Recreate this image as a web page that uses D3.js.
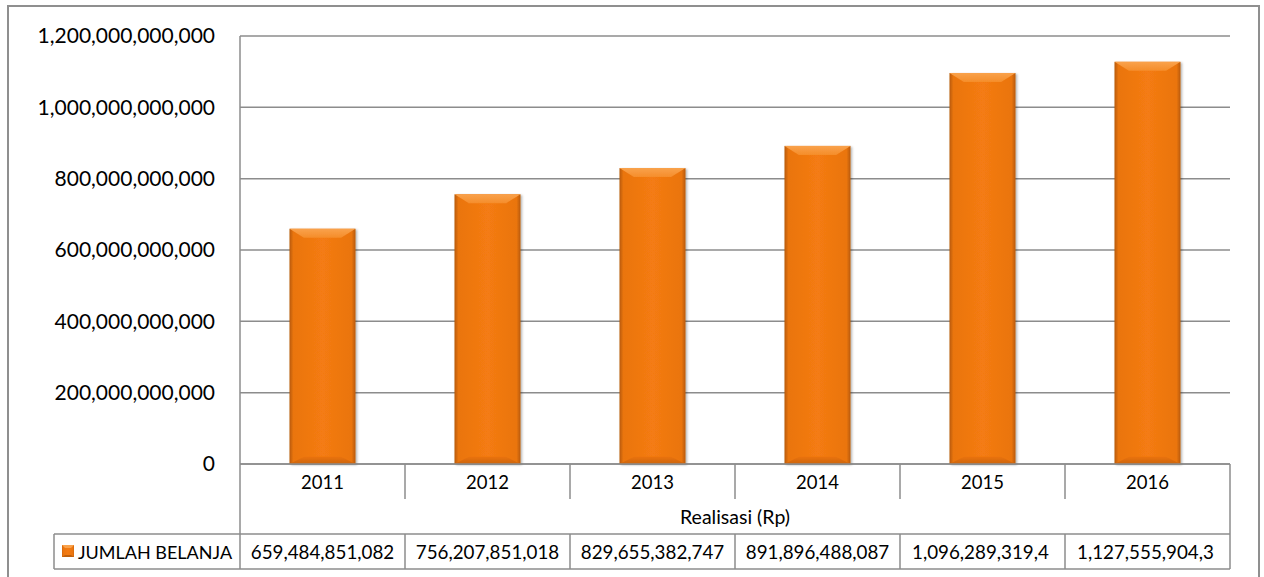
<!DOCTYPE html>
<html>
<head>
<meta charset="utf-8">
<script src="https://cdn.jsdelivr.net/npm/d3@7"></script>
<style>
  html, body { margin: 0; padding: 0; background: #fff; }
  svg { display: block; font-family: Lato, "Open Sans", sans-serif; }
</style>
</head>
<body>
<svg id="chart" width="1264" height="577"></svg>
<script>
// Realisasi belanja per tahun (Rp)
const years = ["2011", "2012", "2013", "2014", "2015", "2016"];
const jumlahBelanja = [659484851082, 756207851018, 829655382747, 891896488087, 1096289319400, 1127555904300];
const yTicks = [0, 200000000000, 400000000000, 600000000000, 800000000000, 1000000000000, 1200000000000];
const seriesName = "JUMLAH BELANJA";
const axisTitle = "Realisasi (Rp)";

const svg = d3.select("#chart");
const W = 1264, H = 577;
const plot = { left: 240, right: 1230, top: 36, bottom: 464 };
const table = { legendLeft: 54, catBottom: 499, rowTop: 534, rowBottom: 569 };
const gridColor = "#8c8c8c";
const fmt = d3.format(",.0f");

const x = d3.scaleBand().domain(years).range([plot.left, plot.right])
  .paddingInner(0.6).paddingOuter(0.3);
const col = d3.scaleBand().domain(years).range([plot.left, plot.right]);
const y = d3.scaleLinear().domain([0, 1200000000000]).range([plot.bottom, plot.top]);

const defs = svg.append("defs");
const side = defs.append("linearGradient").attr("id", "barSide").attr("x1", 0).attr("x2", 1).attr("y1", 0).attr("y2", 0);
[[0, "#b85a0c"], [0.06, "#ea750f"], [0.5, "#f47b12"], [0.94, "#ea750f"], [1, "#b85a0c"]]
  .forEach(([o, c]) => side.append("stop").attr("offset", o).attr("stop-color", c));
const topG = defs.append("linearGradient").attr("id", "barTop").attr("x1", 0).attr("x2", 0).attr("y1", 0).attr("y2", 1);
[[0, "#f9a24c"], [1, "#f58d2a"]].forEach(([o, c]) => topG.append("stop").attr("offset", o).attr("stop-color", c));
const botG = defs.append("linearGradient").attr("id", "barBot").attr("x1", 0).attr("x2", 0).attr("y1", 0).attr("y2", 1);
[[0, "#ea720e"], [1, "#cc650d"]].forEach(([o, c]) => botG.append("stop").attr("offset", o).attr("stop-color", c));
const shadow = defs.append("filter").attr("id", "shadow").attr("x", "-20%").attr("y", "-10%").attr("width", "150%").attr("height", "130%");
shadow.append("feDropShadow").attr("dx", 1.5).attr("dy", 1).attr("stdDeviation", 1.2).attr("flood-color", "#000").attr("flood-opacity", 0.3);

// outer frame
svg.append("rect").attr("x", 8).attr("y", 6).attr("width", 1251).attr("height", H + 10)
  .attr("fill", "none").attr("stroke", "#8f8f8f").attr("stroke-width", 2);

// gridlines
svg.append("g").selectAll("line").data(yTicks).join("line")
  .attr("x1", plot.left).attr("x2", plot.right)
  .attr("y1", d => y(d)).attr("y2", d => y(d))
  .attr("stroke", gridColor).attr("stroke-width", 1.5);

// value axis labels
svg.append("g").selectAll("text").data(yTicks).join("text")
  .attr("x", 215).attr("y", d => y(d)).attr("dy", "0.35em")
  .attr("text-anchor", "end").attr("font-size", 21).attr("fill", "#000")
  .text(d => fmt(d));

// bars with bevel
const bw = x.bandwidth(), bev = 9;
const bars = svg.append("g").selectAll("g").data(years.map((yr, i) => ({ yr, v: jumlahBelanja[i] }))).join("g")
  .attr("filter", "url(#shadow)");
bars.append("rect").attr("x", d => x(d.yr)).attr("y", d => y(d.v))
  .attr("width", bw).attr("height", d => y(0) - y(d.v)).attr("fill", "url(#barSide)");
bars.append("path").attr("fill", "url(#barTop)").attr("d", d => {
  const x0 = x(d.yr), y0 = y(d.v);
  return `M${x0},${y0}L${x0 + bw},${y0}L${x0 + bw - bev * 1.6},${y0 + bev}L${x0 + bev * 1.6},${y0 + bev}Z`;
});
bars.append("path").attr("fill", "url(#barBot)").attr("d", d => {
  const x0 = x(d.yr), y0 = y(0);
  return `M${x0},${y0}L${x0 + bw},${y0}L${x0 + bw - bev * 1.6},${y0 - bev * 0.8}L${x0 + bev * 1.6},${y0 - bev * 0.8}Z`;
});

// redraw baseline over bar bottoms
svg.append("line").attr("x1", plot.left).attr("x2", plot.right)
  .attr("y1", y(0)).attr("y2", y(0)).attr("stroke", gridColor).attr("stroke-width", 1.5);

// data table lines
const tl = svg.append("g").attr("stroke", gridColor).attr("stroke-width", 1.5);
tl.append("line").attr("x1", plot.left).attr("x2", plot.left).attr("y1", plot.top).attr("y2", table.rowBottom);
tl.append("line").attr("x1", plot.right).attr("x2", plot.right).attr("y1", plot.bottom).attr("y2", table.rowBottom);
tl.selectAll(".catSep").data(years.slice(1)).join("line")
  .attr("x1", d => col(d)).attr("x2", d => col(d)).attr("y1", plot.bottom).attr("y2", table.catBottom);
tl.selectAll(".rowSep").data(years.slice(1)).join("line")
  .attr("x1", d => col(d)).attr("x2", d => col(d)).attr("y1", table.rowTop).attr("y2", table.rowBottom);
tl.append("line").attr("x1", table.legendLeft).attr("x2", plot.right).attr("y1", table.rowTop).attr("y2", table.rowTop);
tl.append("line").attr("x1", table.legendLeft).attr("x2", plot.right).attr("y1", table.rowBottom).attr("y2", table.rowBottom);
tl.append("line").attr("x1", table.legendLeft).attr("x2", table.legendLeft).attr("y1", table.rowTop).attr("y2", table.rowBottom);

// category labels
svg.append("g").selectAll("text").data(years).join("text")
  .attr("x", d => col(d) + col.bandwidth() / 2).attr("y", (plot.bottom + table.catBottom) / 2 + 1).attr("dy", "0.35em")
  .attr("text-anchor", "middle").attr("font-size", 18.5).text(d => d);

svg.append("text").attr("x", (plot.left + plot.right) / 2).attr("y", (table.catBottom + table.rowTop) / 2 + 1)
  .attr("dy", "0.35em").attr("text-anchor", "middle").attr("font-size", 19.5).text(axisTitle);

// legend key
const kx = 62, ky = 545, ks = 12;
svg.append("rect").attr("x", kx).attr("y", ky).attr("width", ks).attr("height", ks).attr("fill", "url(#barSide)");
svg.append("path").attr("fill", "#f9a24c").attr("d", `M${kx},${ky}L${kx + ks},${ky}L${kx + ks - 3},${ky + 3}L${kx + 3},${ky + 3}Z`);
svg.append("path").attr("fill", "#c0600c").attr("d", `M${kx},${ky + ks}L${kx + ks},${ky + ks}L${kx + ks - 3},${ky + ks - 2}L${kx + 3},${ky + ks - 2}Z`);
svg.append("text").attr("x", 78).attr("y", (table.rowTop + table.rowBottom) / 2 + 1).attr("dy", "0.35em")
  .attr("font-size", 18).text(seriesName);

// value cells; text too wide for its column is left-aligned and cut at a whole character
const cells = svg.append("g").selectAll("text").data(years.map((yr, i) => ({ yr, v: jumlahBelanja[i] }))).join("text")
  .attr("y", (table.rowTop + table.rowBottom) / 2 + 1).attr("dy", "0.35em")
  .attr("font-size", 18.8).text(d => fmt(d.v))
  .each(function (d) {
    const t = d3.select(this), cw = col.bandwidth();
    let s = fmt(d.v);
    if (this.getComputedTextLength() > cw - 10) {
      while (s.length > 1 && this.getComputedTextLength() > cw - 24) {
        s = s.slice(0, -1);
        t.text(s);
      }
      t.attr("x", col(d.yr) + 12).attr("text-anchor", "start");
    } else {
      t.attr("x", col(d.yr) + cw / 2).attr("text-anchor", "middle");
    }
  });
</script>
</body>
</html>
